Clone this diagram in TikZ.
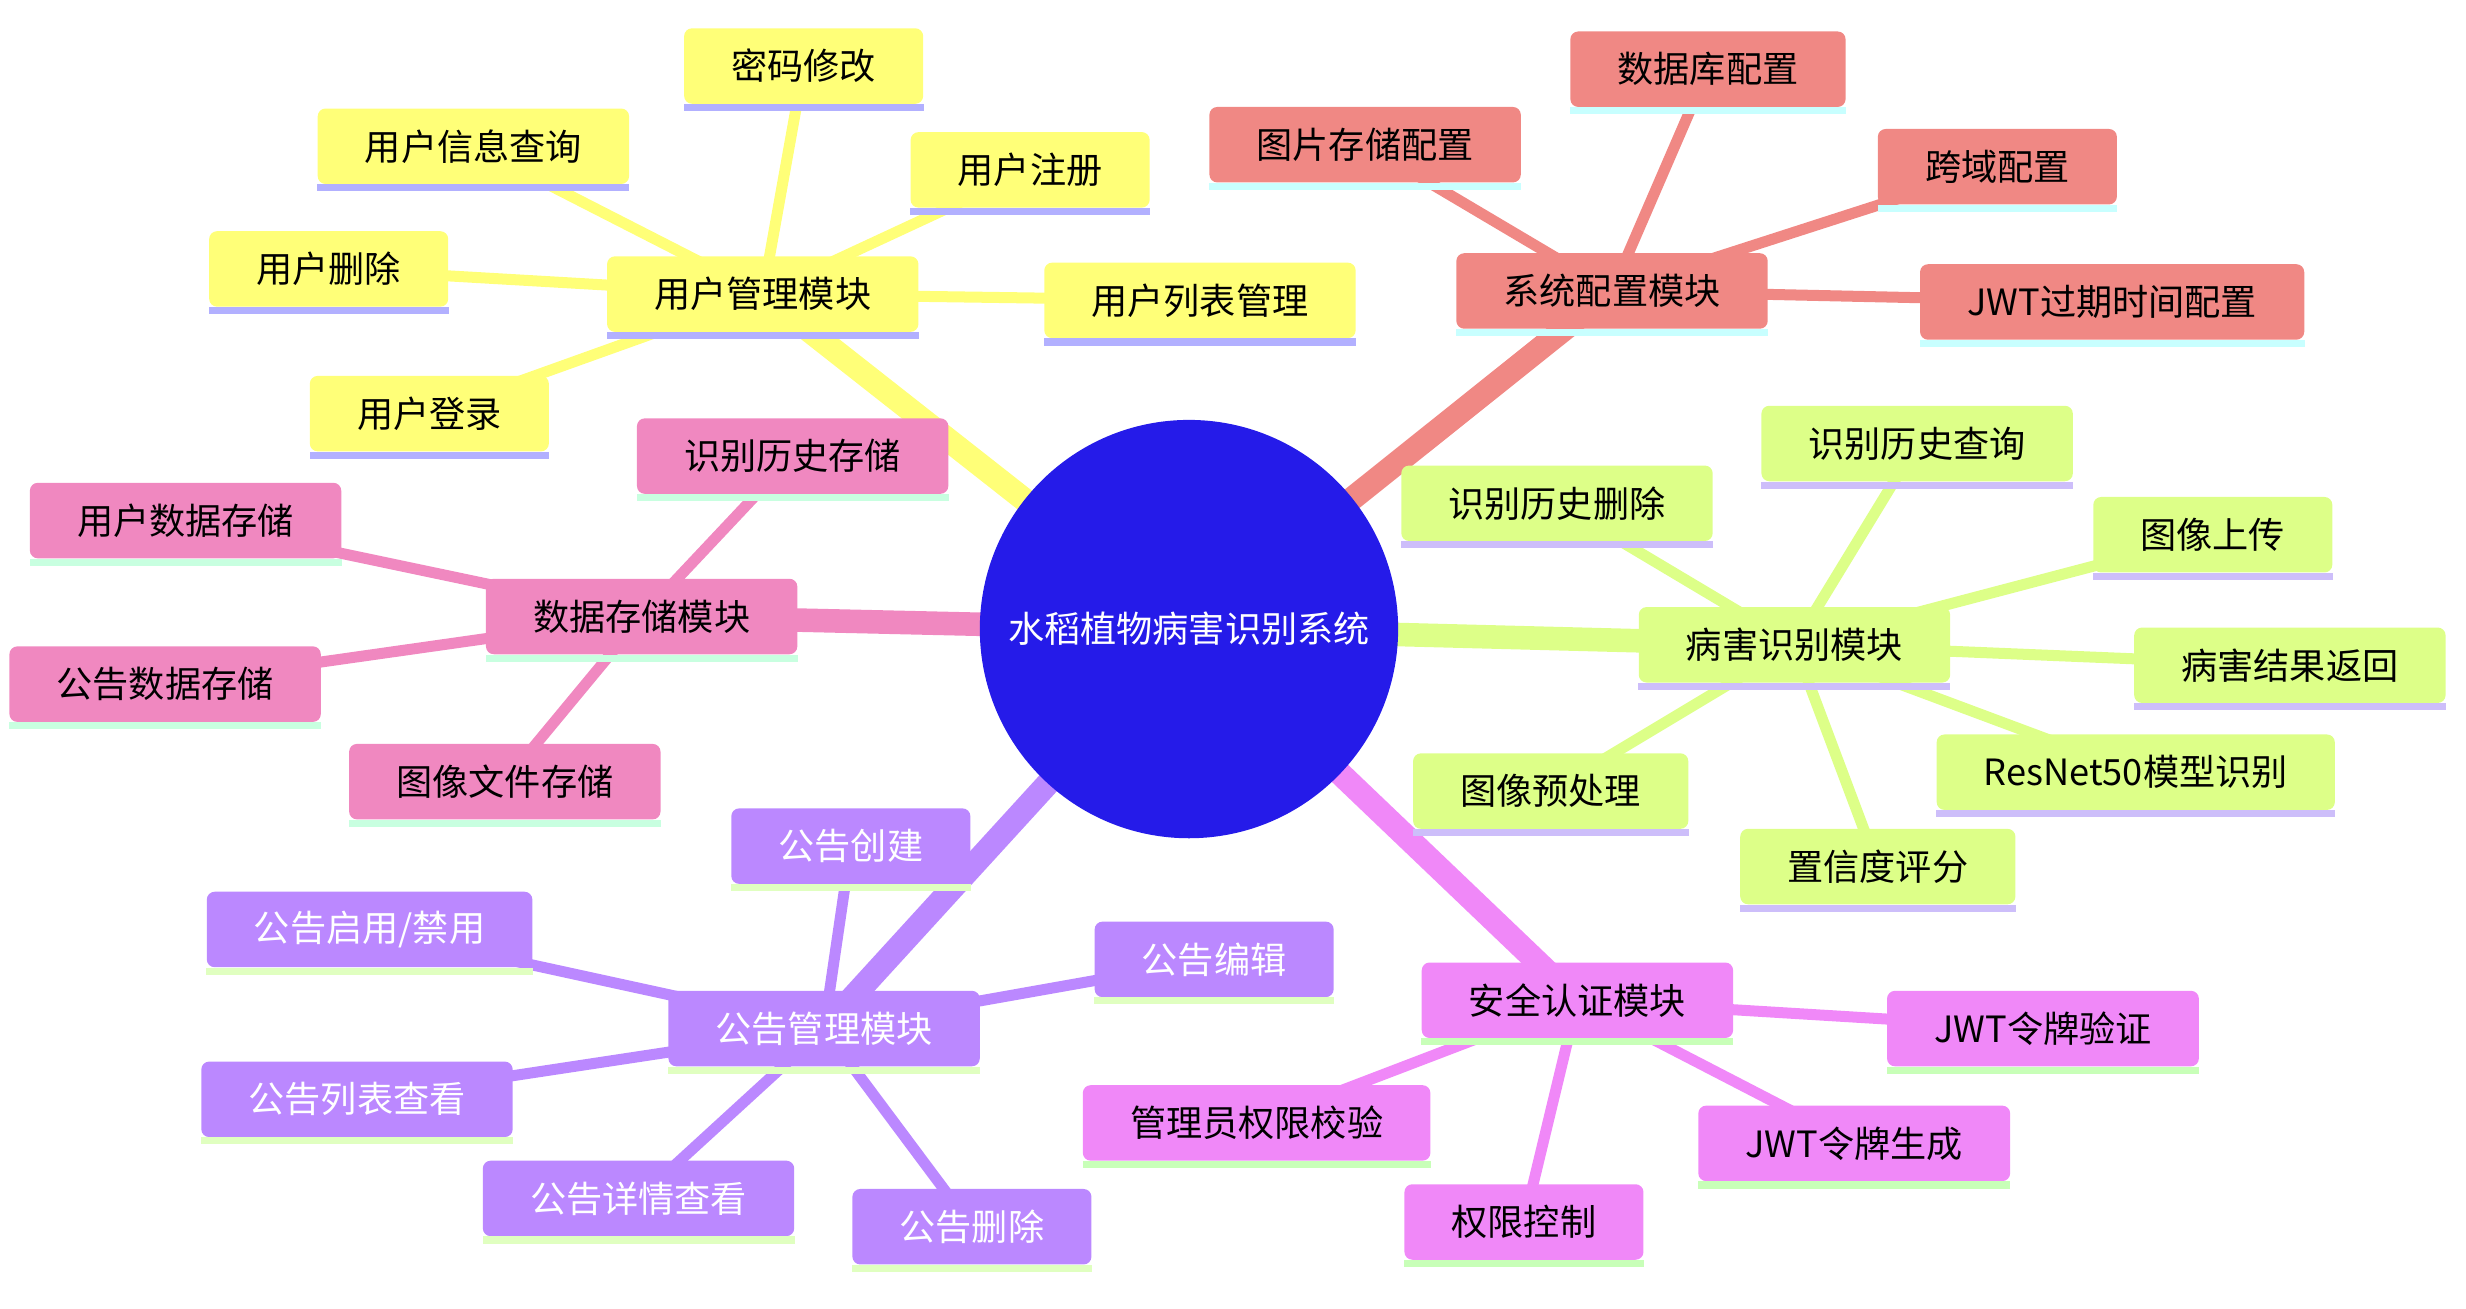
\documentclass[tikz,border=0pt]{standalone}
\usepackage{fontspec}
\newfontfamily\cjk{Noto Sans CJK SC}
\usepackage{xcolor}
\usetikzlibrary{backgrounds}

\definecolor{rootblue}{RGB}{37,27,233}
\definecolor{userfill}{RGB}{255,255,120}
\definecolor{userline}{RGB}{178,176,255}
\definecolor{sysfill}{RGB}{240,136,132}
\definecolor{sysline}{RGB}{200,255,255}
\definecolor{disfill}{RGB}{221,255,136}
\definecolor{disline}{RGB}{205,190,250}
\definecolor{stofill}{RGB}{240,136,192}
\definecolor{stoline}{RGB}{200,255,224}
\definecolor{notfill}{RGB}{187,136,255}
\definecolor{notline}{RGB}{224,255,192}
\definecolor{authfill}{RGB}{240,136,248}
\definecolor{authline}{RGB}{200,255,184}

\tikzset{
  leaf/.style={rectangle,rounded corners=5pt,inner xsep=30pt,inner ysep=0pt,
    minimum height=48pt,font={\cjk\fontsize{23}{28}\selectfont}},
  trunk/.style={line width=15pt},
  twig/.style={line width=7pt},
}

\begin{document}
\begin{tikzpicture}[x=1pt,y=-1pt]
    \useasboundingbox (0,0) rectangle (1568,832);
    
    \node[circle,fill=rootblue,text=white,minimum size=266pt,inner sep=0pt,
    font={\cjk\fontsize{23}{28}\selectfont}] (rice) at (756,400){水稻植物病害识别系统};
    
    % 各模块及其子节点
    \foreach \n/\x/\y/\t in {user/485/187/用户管理模块,user1/511/42/密码修改,
        user2/301/93/用户信息查询,user3/655/108/用户注册,user4/209/171/用户删除,
        user5/763/191/用户列表管理,user6/273/263/用户登录}{
        \node[leaf,fill=userfill] (\n) at (\x,\y){\t};
        \fill[userline] (\n.south west) rectangle ([yshift=-4.5pt]\n.south east);
    }
    
    \foreach \n/\x/\y/\t in {sys/1025/185/系统配置模块,sys1/1086/44/数据库配置,
        sys2/868/92/图片存储配置,sys3/1270/106/跨域配置,sys4/1343/192/JWT过期时间配置}{
        \node[leaf,fill=sysfill] (\n) at (\x,\y){\t};
        \fill[sysline] (\n.south west) rectangle ([yshift=-4.5pt]\n.south east);
    }
    
    \foreach \n/\x/\y/\t in {dis/1141/410/病害识别模块,dis1/1219/282/识别历史查询,
        dis2/990/320/识别历史删除,dis3/1407/340/图像上传,dis4/1456/423/病害结果返回,
        dis5/1358/491/ResNet50模型识别,dis6/986/503/图像预处理,dis7/1194/551/置信度评分}{
        \node[leaf,fill=disfill] (\n) at (\x,\y){\t};
        \fill[disline] (\n.south west) rectangle ([yshift=-4.5pt]\n.south east);
    }
    
    \foreach \n/\x/\y/\t in {sto/408/392/数据存储模块,sto1/504/290/识别历史存储,
        sto2/118/331/用户数据存储,sto3/105/435/公告数据存储,sto4/321/497/图像文件存储}{
        \node[leaf,fill=stofill] (\n) at (\x,\y){\t};
        \fill[stoline] (\n.south west) rectangle ([yshift=-4.5pt]\n.south east);
    }
    
    \foreach \n/\x/\y/\t in {not/524/654/公告管理模块,not1/541/538/公告创建,
        not2/235/591/{公告启用/禁用},not3/772/610/公告编辑,not4/227/699/公告列表查看,
        not5/406/762/公告详情查看,not6/618/780/公告删除}{
        \node[leaf,fill=notfill,text=white] (\n) at (\x,\y){\t};
        \fill[notline] (\n.south west) rectangle ([yshift=-4.5pt]\n.south east);
    }
    
    \foreach \n/\x/\y/\t in {auth/1003/636/安全认证模块,auth1/1299/654/JWT令牌验证,
        auth2/799/714/管理员权限校验,auth3/1179/727/JWT令牌生成,auth4/969/777/权限控制}{
        \node[leaf,fill=authfill] (\n) at (\x,\y){\t};
        \fill[authline] (\n.south west) rectangle ([yshift=-4.5pt]\n.south east);
    }
    
    % 连线放在底层
    \begin{scope}[on background layer]
        \foreach \m/\c in {user/userfill,sys/sysfill,dis/disfill,sto/stofill,not/notfill,auth/authfill}{
            \draw[trunk,\c] (rice.center)--(\m.center);}
        \foreach \i in {1,...,6}{\draw[twig,userfill] (user.center)--(user\i.center);}
        \foreach \i in {1,...,4}{\draw[twig,sysfill] (sys.center)--(sys\i.center);}
        \foreach \i in {1,...,7}{\draw[twig,disfill] (dis.center)--(dis\i.center);}
        \foreach \i in {1,...,4}{\draw[twig,stofill] (sto.center)--(sto\i.center);}
        \foreach \i in {1,...,6}{\draw[twig,notfill] (not.center)--(not\i.center);}
        \foreach \i in {1,...,4}{\draw[twig,authfill] (auth.center)--(auth\i.center);}
    \end{scope}
\end{tikzpicture}
\end{document}
